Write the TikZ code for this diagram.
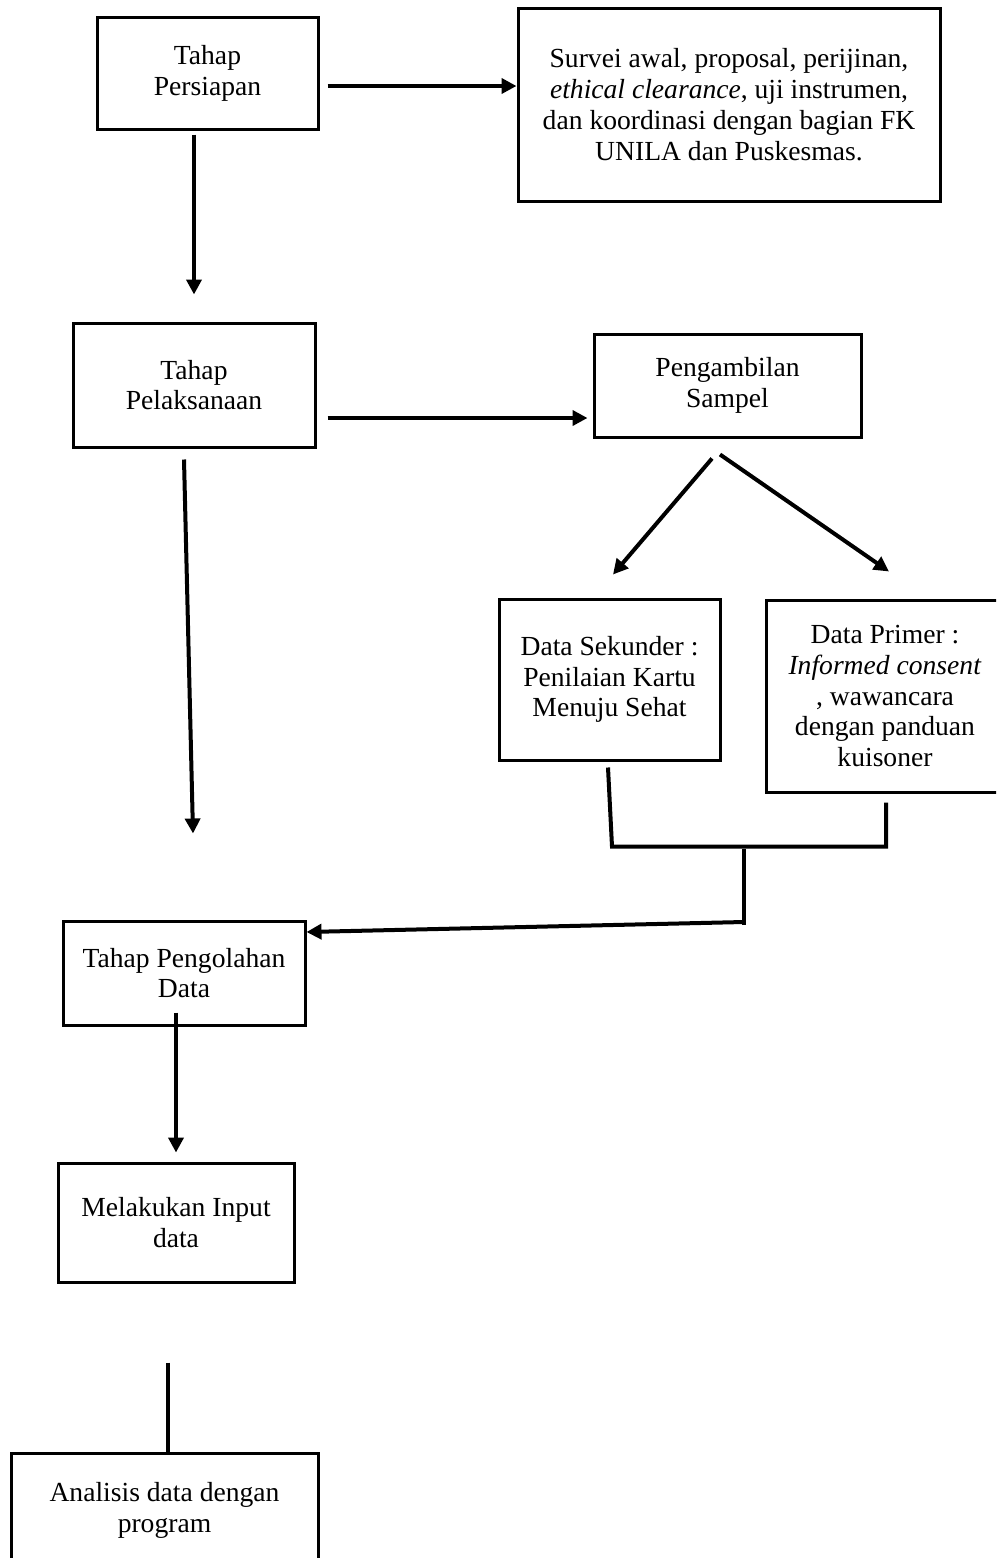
\documentclass[tikz,border=0pt]{standalone}
\usepackage{fontspec}
\setmainfont{Liberation Serif}
\usetikzlibrary{arrows.meta,calc}

\begin{document}
\begin{tikzpicture}[x=1pt, y=-1pt,
  box/.style={draw, line width=3pt, align=center, inner sep=0pt, font=\fontsize{27.6}{30.8}\selectfont},
  arw/.style={line width=4pt, -{Triangle[length=15pt,width=15pt]}},
  ln/.style={line width=4pt}]
\useasboundingbox (0,0) rectangle (996,1558);
\clip (0,0) rectangle (996,1558);

\node[box, minimum width=221pt, minimum height=112pt] (persiapan) at (207.5,73) {Tahap\\ Persiapan};
\node[box, minimum width=422pt, minimum height=193pt] (survei) at (729,104.5) {Survei awal, proposal, perijinan,\\ \textit{ethical clearance}, uji instrumen,\\ dan koordinasi dengan bagian FK\\ UNILA dan Puskesmas.};
\node[box, minimum width=242pt, minimum height=124pt] (pelaksanaan) at (194,385) {Tahap\\ Pelaksanaan};
\node[box, minimum width=267pt, minimum height=103pt] (sampel) at (727.5,385.5) {Pengambilan\\ Sampel};
\node[box, minimum width=221pt, minimum height=161pt] (sekunder) at (609.5,679.5) {Data Sekunder :\\ Penilaian Kartu\\ Menuju Sehat};
\node[box, minimum width=238pt, minimum height=192pt] (primer) at (885,696) {Data Primer :\\ \textit{Informed consent}\\ , wawancara\\ dengan panduan\\ kuisoner};
\node[box, minimum width=242pt, minimum height=104pt] (olah) at (184,973) {Tahap Pengolahan\\ Data};
\node[box, minimum width=236pt, minimum height=119pt] (input) at (176,1222.5) {Melakukan Input\\ data};
\node[box, minimum width=307pt, minimum height=114pt] (analisis) at (164.5,1510) {Analisis data dengan\\ program};

\draw[arw, shorten <=8pt] ([yshift=-13pt]persiapan.east) -- ([yshift=-13pt]persiapan.east -| survei.west);
\draw[arw, shorten <=4pt, shorten >=27pt] (persiapan.south -| pelaksanaan.north) -- (pelaksanaan.north);
\draw[arw, shorten <=11pt, shorten >=5pt] ([yshift=-33pt]pelaksanaan.east) -- ([yshift=-33pt]pelaksanaan.east -| sampel.west);
\draw[arw] ([xshift=-15.5pt,yshift=-20pt]sampel.south) -- ([xshift=3.5pt,yshift=23pt]sekunder.north);
\draw[arw] ([xshift=-7.5pt,yshift=-16pt]sampel.south) -- ([xshift=4pt,yshift=27pt]primer.north);
\draw[arw] ([xshift=-10pt,yshift=-11pt]pelaksanaan.south) -- ([xshift=9pt,yshift=86pt]olah.north);

% gabungan data sekunder dan primer
\draw[ln] ([xshift=-1.5pt,yshift=-6pt]sekunder.south) -- ++(4,79) -| ([xshift=1pt,yshift=-9pt]primer.south);
\coordinate (gabung) at (744,849);
\draw[ln] (gabung) -- ++(0,76);
\draw[arw] (gabung) ++(0,73) -- ([yshift=41pt]olah.east);

\draw[arw, shorten >=9pt] ($(olah.south -| input.north)+(0,-14)$) -- (input.north);
\draw[ln] ([xshift=-8pt,yshift=-79pt]input.south) -- ([xshift=3.5pt]analisis.north);
\end{tikzpicture}
\end{document}
